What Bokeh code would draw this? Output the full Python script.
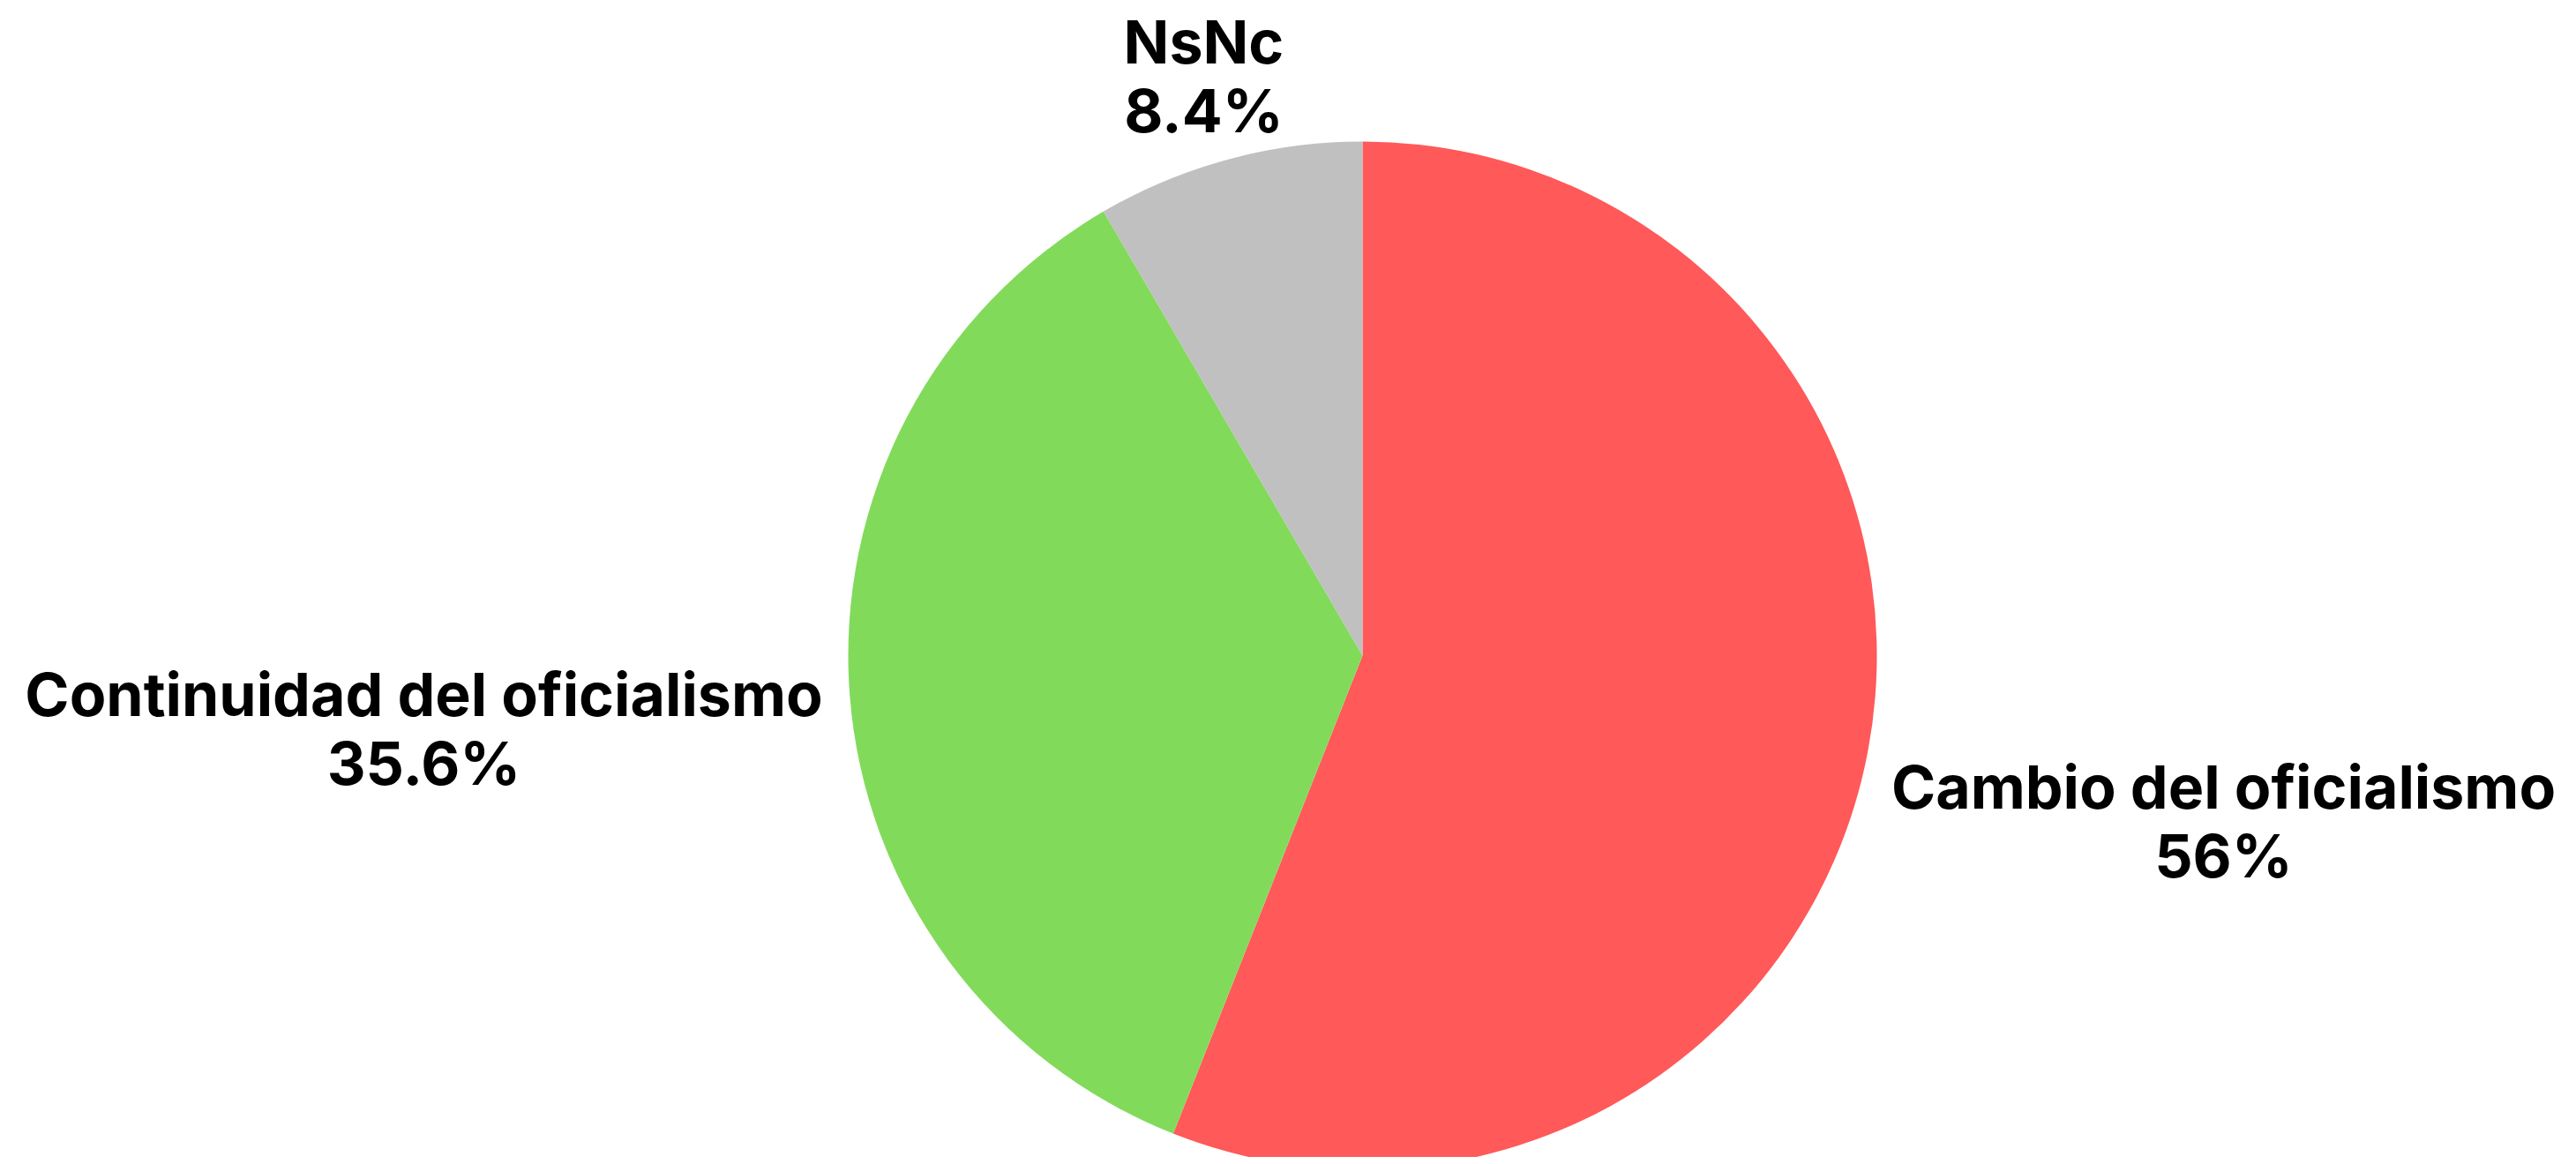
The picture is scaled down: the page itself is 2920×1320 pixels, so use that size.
import math
from bokeh.plotting import figure
from bokeh.models import Range1d, ColumnDataSource
from bokeh.core.properties import value
from bokeh.embed import file_html
from bokeh.resources import INLINE

categories = ["Cambio del oficialismo", "Continuidad del oficialismo", "NsNc"]
shares = [56.0, 35.6, 8.4]
share_labels = ["56%", "35.6%", "8.4%"]
colors = ["#FF5959", "#82DA5B", "#C0C0C0"]

W, H = 2912, 1312
CX, CY, R = 1544, H - 743, 583
FONT = "Inter"
FS = "68px"
# label anchor (center x, baseline of first line, in screen px from top)
label_pos = [(2520, 891), (480, 786), (1364, 46)]
LINE_GAP = 78

p = figure(width=W, height=H, output_backend="svg", toolbar_location=None,
           x_range=Range1d(0, W), y_range=Range1d(0, H), min_border=0)
p.axis.visible = False
p.grid.visible = False
p.outline_line_color = None
p.background_fill_color = "white"
p.border_fill_color = "white"

total = sum(shares)
starts, ends = [], []
a = math.pi / 2
for s in shares:
    starts.append(a)
    a -= s / total * 2 * math.pi
    ends.append(a)

src = ColumnDataSource(dict(x=[CX] * 3, y=[CY] * 3, start=starts, end=ends, color=colors))
p.wedge(x="x", y="y", radius=R, start_angle="start", end_angle="end", direction="clock",
        fill_color="color", line_color=None, source=src)

lx = [lp[0] for lp in label_pos]
ly1 = [H - lp[1] for lp in label_pos]
ly2 = [H - lp[1] - LINE_GAP for lp in label_pos]
p.text(x=lx, y=ly1, text=categories, text_align="center", text_baseline="alphabetic",
       text_font=value(FONT), text_font_style="bold", text_font_size=FS, text_color="#000000")
p.text(x=lx, y=ly2, text=share_labels, text_align="center", text_baseline="alphabetic",
       text_font=value(FONT), text_font_style="bold", text_font_size=FS, text_color="#000000")

open("out.html", "w").write(file_html(p, INLINE))
